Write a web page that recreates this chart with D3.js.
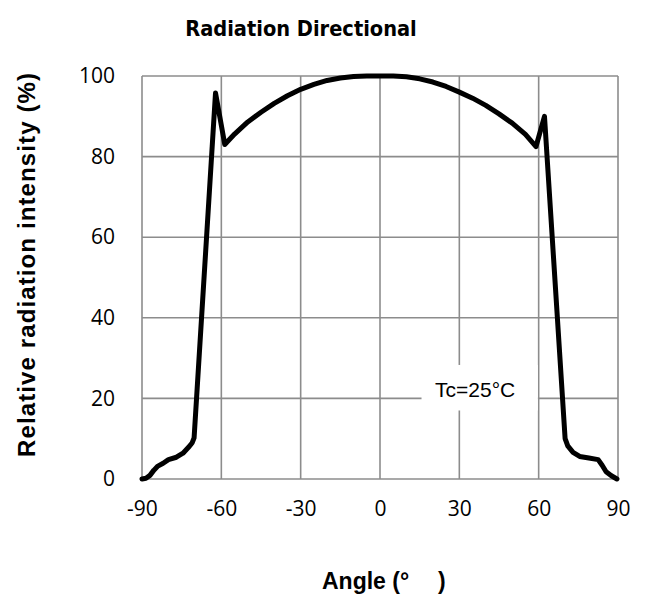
<!DOCTYPE html>
<html>
<head>
<meta charset="utf-8">
<script src="https://cdn.jsdelivr.net/npm/d3@7"></script>
<style>
  body { margin: 0; background: #fff; }
  svg { display: block; }
</style>
</head>
<body>
<svg id="chart" width="649" height="602"></svg>
<script>
// data
const angles = [-90, -88.5, -87, -85.5, -84, -82, -80, -77, -74.5, -72.5, -71, -70.3, -62.2, -58.7, -55, -50, -45, -40, -35, -30, -25, -20, -15, -10, -5, 0,
                5, 10, 15, 20, 25, 30, 35, 40, 45, 50, 55, 59, 62.2, 70, 71, 73, 75.5, 79, 82.5, 84, 85.5, 87.5, 89.6];
const intensity = [0, 0.2, 0.9, 2.2, 3.2, 3.9, 4.8, 5.4, 6.4, 7.8, 9, 10.2, 95.8, 83, 85.6, 88.6, 91, 93.2, 95.1, 96.7, 97.9, 98.9, 99.5, 99.9, 100, 100,
                   100, 99.8, 99.3, 98.5, 97.4, 96, 94.5, 92.7, 90.6, 88.3, 85.5, 82.5, 90, 10, 8.2, 6.6, 5.6, 5.2, 4.8, 3.4, 1.8, 0.8, 0];
const xTicks = [-90, -60, -30, 0, 30, 60, 90];
const yTicks = [0, 20, 40, 60, 80, 100];
const note = "Tc=25°C";

const svg = d3.select("#chart");
const plot = { left: 142, right: 618, top: 76, bottom: 479 };

const x = d3.scaleLinear().domain([-90, 90]).range([plot.left, plot.right]);
const y = d3.scaleLinear().domain([0, 100]).range([plot.bottom, plot.top]);

const grid = "#8c8c8c";

// gridlines
svg.append("g")
  .selectAll("line")
  .data(xTicks)
  .enter().append("line")
  .attr("x1", d => x(d)).attr("x2", d => x(d))
  .attr("y1", plot.top).attr("y2", plot.bottom)
  .attr("stroke", grid).attr("stroke-width", 1.6);

svg.append("g")
  .selectAll("line")
  .data(yTicks)
  .enter().append("line")
  .attr("x1", plot.left).attr("x2", plot.right)
  .attr("y1", d => y(d)).attr("y2", d => y(d))
  .attr("stroke", grid).attr("stroke-width", 1.6);

// tick labels via axes
const xAxis = svg.append("g")
  .attr("transform", `translate(0,${plot.bottom})`)
  .call(d3.axisBottom(x).tickValues(xTicks).tickFormat(d => String(d)).tickSize(0).tickPadding(22));
const yAxis = svg.append("g")
  .attr("transform", `translate(${plot.left},0)`)
  .call(d3.axisLeft(y).tickValues(yTicks).tickFormat(d => String(d)).tickSize(0).tickPadding(27));
[xAxis, yAxis].forEach(a => {
  a.select(".domain").remove();
  a.selectAll("text")
    .attr("font-family", "'Open Sans', sans-serif")
    .attr("font-size", 21)
    .attr("fill", "#000");
});

// note box
const nb = svg.append("g");
nb.append("rect")
  .attr("x", x(15.7)).attr("y", y(28.3))
  .attr("width", x(59.7) - x(15.7)).attr("height", y(17) - y(28.3))
  .attr("fill", "#fff");
nb.append("text")
  .attr("x", x(36)).attr("y", y(20.3))
  .attr("text-anchor", "middle")
  .attr("font-family", "'Liberation Sans', Arial, sans-serif")
  .attr("font-size", 21)
  .text(note);

// curve
const pts = angles.map((a, i) => [a, intensity[i]]);
svg.append("path")
  .datum(pts)
  .attr("fill", "none")
  .attr("stroke", "#000")
  .attr("stroke-width", 5)
  .attr("stroke-linejoin", "round")
  .attr("stroke-linecap", "round")
  .attr("d", d3.line().x(d => x(d[0])).y(d => y(d[1])));

// titles
svg.append("text")
  .attr("x", 301).attr("y", 36)
  .attr("text-anchor", "middle")
  .attr("font-family", "'DejaVu Sans Condensed', 'DejaVu Sans', sans-serif")
  .attr("font-weight", "bold")
  .attr("font-size", 21.6)
  .text("Radiation Directional");

svg.append("text")
  .attr("transform", "translate(35,265) rotate(-90)")
  .attr("text-anchor", "middle")
  .attr("font-family", "'Liberation Sans', Arial, sans-serif")
  .attr("font-weight", "bold")
  .attr("font-size", 24)
  .attr("textLength", 384)
  .attr("lengthAdjust", "spacing")
  .text("Relative radiation intensity (%)");

const xl = svg.append("text")
  .attr("x", 322).attr("y", 589)
  .attr("font-family", "'Liberation Sans', Arial, sans-serif")
  .attr("font-weight", "bold")
  .attr("font-size", 23);
xl.append("tspan").text("Angle (°");
xl.append("tspan").attr("x", 438).text(")");
</script>
</body>
</html>
